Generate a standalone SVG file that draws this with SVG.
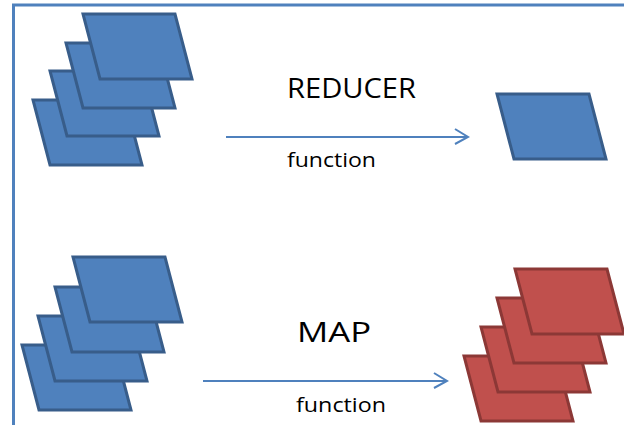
<svg xmlns="http://www.w3.org/2000/svg" width="624" height="425" viewBox="0 0 624 425">
<defs>
<style>
.blue{fill:#4f81bd;stroke:#385d8a;stroke-width:3;stroke-linejoin:miter}
.red{fill:#c0504d;stroke:#8c3836;stroke-width:3;stroke-linejoin:miter}
.conn{fill:none;stroke:#4f81bd;stroke-width:2}
.head{fill:none;stroke:#4f81bd;stroke-width:2;stroke-linejoin:miter}
.big{font-family:"Open Sans","Liberation Sans",sans-serif;font-size:28px;fill:#000}
.small{font-family:"Open Sans","Liberation Sans",sans-serif;font-size:20px;fill:#000}
.frame{fill:none;stroke:#4f81bd;stroke-width:3}
</style>
<path id="pg" d="M0,0 L92,0 L109,65 L17,65 Z"/>
</defs>
<g id="frame"><path class="frame" d="M13.5,425 L13.5,5 L624,5"/></g>
<g id="reducer-input">
<use href="#pg" class="blue" x="33" y="100"/>
<use href="#pg" class="blue" x="50" y="71"/>
<use href="#pg" class="blue" x="66" y="43"/>
<use href="#pg" class="blue" x="83" y="14"/>
</g>
<g id="reducer-output">
<use href="#pg" class="blue" x="497" y="94"/>
</g>
<g id="map-input">
<use href="#pg" class="blue" x="22" y="345"/>
<use href="#pg" class="blue" x="38" y="316"/>
<use href="#pg" class="blue" x="55" y="287"/>
<use href="#pg" class="blue" x="73" y="257"/>
</g>
<g id="map-output">
<use href="#pg" class="red" x="464" y="356"/>
<use href="#pg" class="red" x="481" y="327"/>
<use href="#pg" class="red" x="497" y="298"/>
<use href="#pg" class="red" x="515" y="269"/>
</g>
<g id="connectors">
<path class="conn" d="M226,137 L467,137"/>
<path class="head" d="M455,129 L468,137 L455,144"/>
<path class="conn" d="M203,381 L446,381"/>
<path class="head" d="M434,373 L447,381 L434,388"/>
</g>
<g id="labels">
<text class="big" x="287" y="98" textLength="129" lengthAdjust="spacingAndGlyphs">REDUCER</text>
<text class="small" x="287" y="167" textLength="89" lengthAdjust="spacingAndGlyphs">function</text>
<text class="big" x="297" y="342" textLength="74" lengthAdjust="spacingAndGlyphs">MAP</text>
<text class="small" x="296" y="412" textLength="90" lengthAdjust="spacingAndGlyphs">function</text>
</g>
</svg>
